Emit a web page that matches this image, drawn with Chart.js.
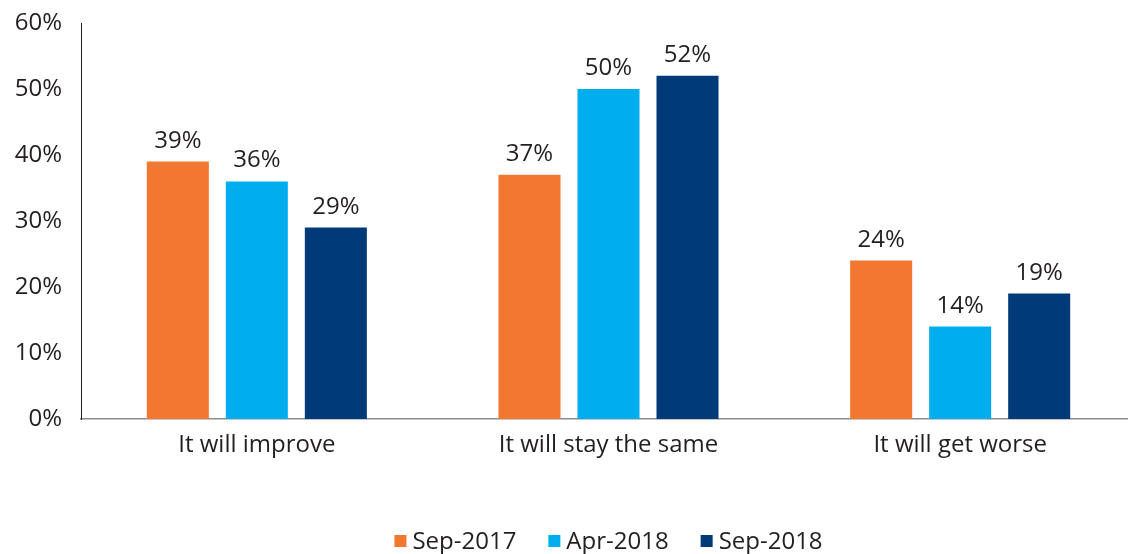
<!DOCTYPE html>
<html>
<head>
<meta charset="utf-8">
<script src="https://cdn.jsdelivr.net/npm/chart.js@4/dist/chart.umd.min.js"></script>
<style>
  html, body { margin: 0; padding: 0; background: #fff; overflow: hidden; }
  #wrap { width: 1136px; height: 554px; }
</style>
</head>
<body>
<div id="wrap"><canvas id="outlook" width="1136" height="554"></canvas></div>
<script>
const categories = ['It will improve', 'It will stay the same', 'It will get worse'];
const seriesNames = ['Sep-2017', 'Apr-2018', 'Sep-2018'];
const sep2017 = [39, 37, 24];
const apr2018 = [36, 50, 14];
const sep2018 = [29, 52, 19];
const yTicks = [0, 10, 20, 30, 40, 50, 60];

const colors = ['#F27832', '#00AEEF', '#003A78'];
const textColor = '#231F20';
const fontFamily = '"Open Sans", "Noto Sans", sans-serif';
const fontSize = 24;

// percent labels above every bar
const barValueLabels = {
  id: 'barValueLabels',
  afterDatasetsDraw(chart) {
    const ctx = chart.ctx;
    ctx.save();
    ctx.font = fontSize + 'px ' + fontFamily;
    ctx.fillStyle = textColor;
    ctx.textAlign = 'center';
    ctx.textBaseline = 'alphabetic';
    chart.data.datasets.forEach((ds, i) => {
      chart.getDatasetMeta(i).data.forEach((bar, j) => {
        ctx.fillText(ds.data[j] + '%', bar.x, bar.y - 14);
      });
    });
    ctx.restore();
  }
};

// simple square-swatch legend along the bottom, centred under the plot
const bottomLegend = {
  id: 'bottomLegend',
  afterDraw(chart) {
    const ctx = chart.ctx;
    const area = chart.chartArea;
    const box = 12, gapText = 6, gapItem = 32;
    const y = 541;
    ctx.save();
    ctx.font = fontSize + 'px ' + fontFamily;
    const widths = chart.data.datasets.map(ds => box + gapText + ctx.measureText(ds.label).width);
    const total = widths.reduce((a, b) => a + b, 0) + gapItem * (widths.length - 1);
    let x = (area.left + area.right) / 2 - total / 2;
    ctx.textBaseline = 'middle';
    ctx.textAlign = 'left';
    chart.data.datasets.forEach((ds, i) => {
      ctx.fillStyle = ds.backgroundColor;
      ctx.fillRect(x, y - box / 2, box, box);
      ctx.fillStyle = textColor;
      ctx.fillText(ds.label, x + box + gapText, y + 1);
      x += widths[i] + gapItem;
    });
    ctx.restore();
  }
};

const seriesData = [sep2017, apr2018, sep2018];

new Chart(document.getElementById('outlook'), {
  type: 'bar',
  data: {
    labels: categories,
    datasets: seriesNames.map((name, i) => ({
      label: name,
      data: seriesData[i],
      backgroundColor: colors[i],
      borderWidth: 0,
      categoryPercentage: 0.674,
      barPercentage: 0.785
    }))
  },
  options: {
    responsive: false,
    animation: false,
    layout: { padding: { top: 23, left: 0, right: 0, bottom: 75 } },
    plugins: {
      legend: { display: false },
      tooltip: { enabled: false }
    },
    scales: {
      x: {
        grid: { display: false, drawTicks: false },
        border: { color: '#8C8C8C', width: 1.5 },
        ticks: {
          color: textColor,
          padding: 12,
          font: { family: fontFamily, size: fontSize }
        },
        afterFit: s => { s.height = 60; }
      },
      y: {
        min: 0,
        max: 60,
        afterBuildTicks: s => { s.ticks = yTicks.map(v => ({ value: v })); },
        grid: { display: false, drawTicks: false },
        border: { color: '#231F20', width: 1 },
        ticks: {
          color: textColor,
          padding: 19,
          font: { family: fontFamily, size: fontSize },
          callback: v => v + '%'
        },
        afterFit: s => {
          s.width = 81;
          s.paddingTop = 0;
          s.paddingBottom = 0;
        }
      }
    }
  },
  plugins: [barValueLabels, bottomLegend]
});
</script>
</body>
</html>
